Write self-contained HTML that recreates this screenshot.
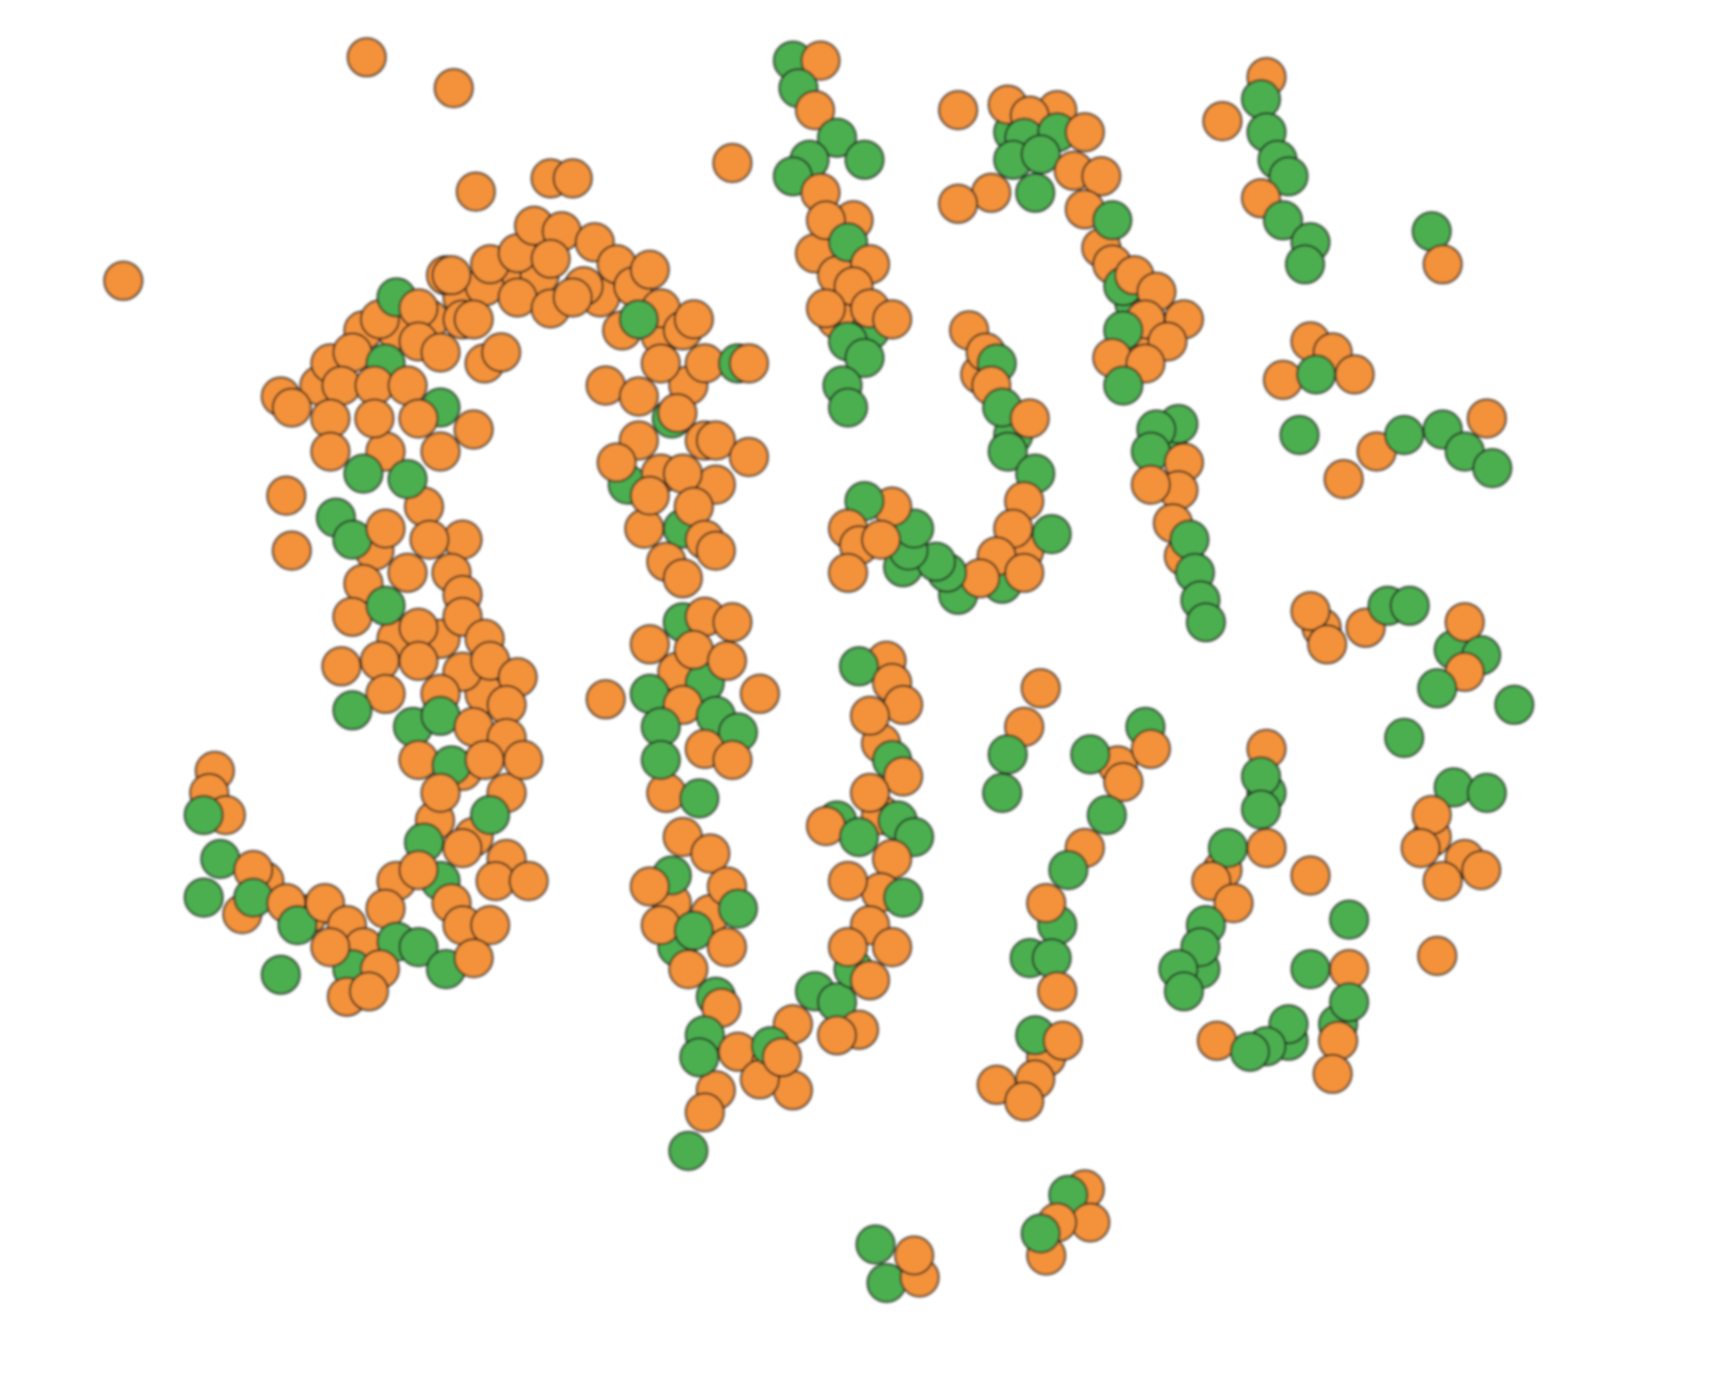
<!DOCTYPE html>
<html><head><meta charset="utf-8"><style>
html,body{margin:0;padding:0;background:#fff;}
svg{display:block;}
</style></head><body>
<svg id="chart" width="1718" height="1384" viewBox="0 0 1718 1384">
<defs><filter id="soft"><feGaussianBlur stdDeviation="1.3"/></filter></defs>
<g id="marks" filter="url(#soft)"></g>
</svg>
<script>
// observations: [x, y, group] (group 0 = orange, 1 = green)
const observations = [
[333,52,0],[412,80,0],[432,174,0],[500,162,0],[520,162,0],[112,255,0],[665,148,0],
[290,350,0],[330,300,0],[360,300,0],[390,290,0],[420,270,0],[460,250,0],[490,250,0],[545,270,0],[565,300,0],[600,305,0],[625,350,0],[650,440,0],[620,480,1],[585,480,0],
[255,360,0],[265,370,0],[300,330,0],[320,320,0],[345,290,0],[360,270,1],[380,280,0],[405,250,0],[420,290,0],[440,260,0],[445,240,0],[470,230,0],[485,205,0],[510,210,0],[500,235,0],[540,220,0],[530,260,0],[560,240,0],[575,260,0],[590,245,0],[600,280,0],[580,290,1],[620,300,0],[630,290,0],[640,330,0],[670,330,1],[680,330,0],[600,330,0],[550,350,0],[580,360,0],[610,380,1],[640,400,0],[580,400,0],[570,440,1],[600,430,0],[620,430,0],
[650,400,0],[680,415,0],[560,420,0],[590,450,0],[630,460,0],[640,490,0],[605,510,0],[650,500,0],[620,525,0],[615,375,0],
[410,250,0],[430,290,0],[470,270,0],[500,280,0],[520,270,0],[440,330,0],[455,320,0],
[350,410,0],[385,460,0],[420,490,0],[340,500,0],[360,580,0],[400,580,0],[440,630,0],[420,700,0],[460,720,0],[430,760,0],[460,780,0],[395,745,0],[360,800,0],[400,800,1],
[350,330,1],[380,310,0],[400,320,0],[310,350,0],[340,350,0],[370,350,0],[400,370,1],[300,380,0],[340,380,0],[380,380,0],[430,390,0],[300,410,0],[330,430,1],[370,435,1],[400,410,0],[305,470,1],[320,490,1],[350,480,0],[390,490,0],[330,530,0],[370,520,0],[410,520,0],[420,540,0],[320,560,0],[350,550,1],[380,570,0],[420,560,0],[440,580,0],[310,605,0],[345,600,0],[380,600,0],[420,610,0],[445,600,0],[470,615,0],[350,630,0],[400,630,0],[460,640,0],[320,645,1],[375,660,1],[400,650,1],[430,660,0],[460,670,0],[380,690,0],[410,695,1],[440,690,0],[475,690,0],[400,720,0],[445,740,1],[385,765,1],[420,770,0],[380,790,0],[450,800,0],[480,800,0],[410,820,0],[420,840,0],[445,840,0],[260,450,0],[265,500,0],
[240,800,0],[280,830,0],[220,830,0],
[195,700,0],[190,720,0],[205,740,0],[185,740,1],[200,780,1],[230,790,0],[185,815,1],[230,815,1],[260,820,0],[270,840,1],[295,820,0],[315,840,0],[350,825,0],[330,860,0],[360,855,1],[380,860,1],[405,880,1],[430,870,0],[320,880,1],[345,880,0],[315,905,0],[335,900,0],[255,885,1],[300,860,0],
[615,610,0],[640,620,1],[605,720,0],[610,820,0],[645,830,0],[615,860,1],
[590,585,0],[620,565,1],[640,560,0],[665,565,0],[630,590,0],[660,600,0],[690,630,0],[590,630,1],[620,640,0],[550,635,0],[600,660,1],[650,650,1],[670,665,1],[640,680,0],[600,690,1],[665,690,0],[635,725,1],[620,760,0],[645,775,0],[610,795,1],[590,805,0],[660,805,0],[600,840,0],[630,845,1],[670,825,1],[660,860,0],[625,880,0],[650,905,1],[655,915,0],[640,940,1],[670,955,0],[700,965,0],[720,930,0],[740,900,1],[760,910,1],[780,935,0],[775,880,1],[720,990,0],[690,980,0],[650,990,0],[640,1010,0],[625,1045,1],[700,950,1],
[635,960,1],[710,960,0],[760,940,0],[790,890,0],[800,740,0],[800,675,0],[805,600,0],
[780,605,1],[810,620,0],[820,640,0],[790,650,0],[810,690,1],[820,705,0],[790,720,0],[760,745,1],[750,750,0],[780,760,1],[815,745,1],[830,760,1],[810,780,0],[800,810,0],[770,800,0],[820,815,1],[790,840,0],[810,860,0],[770,860,0],
[740,230,0],[760,250,0],[775,200,0],[760,290,0],[790,300,1],
[720,55,1],[745,55,0],[725,80,1],[740,100,0],[760,125,1],[785,145,1],[735,145,1],[720,160,1],[745,175,0],[750,200,0],[770,220,1],[790,240,0],[775,260,0],[750,280,0],[790,280,0],[810,290,0],[770,310,1],[785,325,1],[765,350,1],[770,370,1],
[920,120,1],[960,100,0],[1000,225,0],
[870,100,0],[915,95,0],[935,105,0],[930,125,1],[960,120,1],[985,120,0],[920,145,1],[945,140,1],[975,155,0],[1000,160,0],[940,175,1],[900,175,0],[870,185,0],[985,190,0],[1010,200,1],
[1030,275,1],[1050,300,0],[1030,320,0],[1060,400,1],[1075,505,0],
[1010,240,0],[1020,260,1],[1030,250,0],[1050,265,0],[1040,290,0],[1075,290,0],[1020,300,1],[1060,310,0],[1010,325,0],[1040,330,0],[1020,350,1],[1070,385,1],[1050,390,1],[1045,410,1],[1075,420,0],[1070,445,0],[1045,440,0],[1065,475,0],[1080,490,1],[1085,520,1],[1090,545,1],[1095,565,1],
[820,515,1],[870,540,1],[910,530,1],[930,500,0],[890,340,0],[920,395,1],
[880,300,0],[895,320,0],[905,330,1],[900,350,0],[910,370,1],[935,380,0],[915,410,1],[940,430,1],[930,455,0],[955,485,1],[920,480,0],[905,505,0],[930,520,0],[890,525,0],[860,520,1],[850,510,1],[825,500,1],[830,480,1],[810,460,0],[785,455,1],[770,480,0],[780,495,0],[770,520,0],[800,490,0],
[1150,70,0],[1145,90,1],[1110,110,0],[1150,120,1],[1160,145,1],[1170,160,1],[1145,180,0],[1165,200,1],[1190,220,1],[1185,240,1],
[1300,210,1],[1310,240,0],
[1190,310,0],[1210,320,0],[1230,340,0],[1165,345,0],[1195,340,1],[1180,395,1],[1250,410,0],[1275,395,1],[1220,435,0],[1310,390,1],[1330,410,1],[1350,380,0],[1355,425,1],
[1200,570,0],[1320,590,1],[1300,760,0],
[1190,555,0],[1205,585,0],[1240,570,0],[1260,550,1],[1280,550,1],[1330,565,0],[1345,595,1],[1330,610,0],[1305,625,1],[1375,640,1],[1275,670,1],[1320,715,1],[1350,720,1],[1300,740,0],[1290,770,0],[1330,780,0],[1310,800,0],[1345,790,0],[1305,868,0],
[1015,695,0],[960,840,1],[950,960,0],
[945,625,0],[930,660,0],[915,685,1],[910,720,1],[990,685,1],[1040,660,1],[1045,680,0],[1020,710,0],[1005,740,1],[985,770,0],[970,790,1],[950,820,0],[935,870,1],[955,870,1],[960,900,0],[940,940,1],[965,945,0],[940,980,0],[905,985,0],[930,1000,0],
[1110,790,0],[1090,880,1],[1150,720,1],[1170,945,1],[1215,930,1],
[1150,680,0],[1145,705,1],[1145,735,1],[1150,770,0],[1115,770,1],[1100,800,0],[1120,820,0],[1095,840,1],[1090,860,1],[1070,880,1],[1075,900,1],[1190,795,0],[1225,835,1],[1225,880,0],[1190,880,1],[1225,910,1],[1215,945,0],[1210,975,0],[1170,930,1],[1150,950,1],[1105,945,0],[1135,955,1],
[795,1130,1],[805,1165,1],[835,1160,0],[830,1140,0],[985,1080,0],[970,1085,1],[990,1110,0],[960,1110,0],[950,1140,0],[945,1120,1]
];
const groupColors = ["#f3923b", "#4caf50"];
const groupNames = ["orange", "green"];

function xScale(v){ return v * 1.1013; }
function yScale(v){ return v * 1.1013; }

const g = document.getElementById('marks');
const NS = "http://www.w3.org/2000/svg";
observations.forEach(function(o, i){
  const c = document.createElementNS(NS, 'circle');
  c.setAttribute('cx', xScale(o[0]).toFixed(1));
  c.setAttribute('cy', yScale(o[1]).toFixed(1));
  c.setAttribute('r', 19);
  c.setAttribute('fill', groupColors[o[2]]);
  c.setAttribute('stroke', '#1a1a1a');
  c.setAttribute('stroke-opacity', '0.85');
  c.setAttribute('stroke-width', '2');
  
  
  g.appendChild(c);
});
</script>
</body></html>
